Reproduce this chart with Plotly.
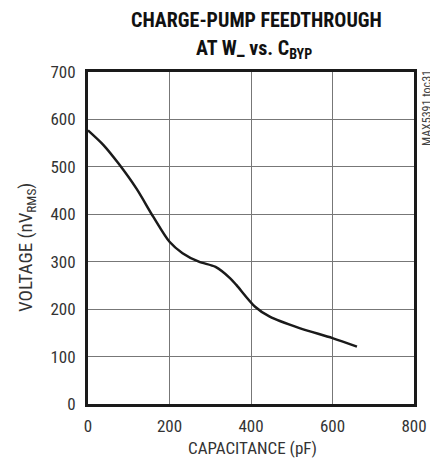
import plotly.graph_objects as go

capacitance_pf = [0, 38, 75, 119, 160, 200, 232, 272, 313, 349, 364, 410, 446, 519, 600, 660]
voltage_nvrms = [577, 546, 507, 454, 395, 342, 318, 300, 289, 265, 251, 205, 184, 160, 139, 121]

x_ticks = [0, 200, 400, 600, 800]
y_ticks = [0, 100, 200, 300, 400, 500, 600, 700]

FONT = "Liberation Sans Narrow, Arial Narrow, Roboto Condensed, Liberation Sans, sans-serif"
TXT = "#333333"

# page body has an 8px margin; plot area spans page px x 88..414, y 72..404
PX0, PX1, PY0, PY1 = 88, 414, 72, 404


def px(x):
    return (x - PX0) / (PX1 - PX0)


def py(y):
    return (PY1 - y) / (PY1 - PY0)


fig = go.Figure()
fig.add_trace(go.Scatter(
    x=capacitance_pf, y=voltage_nvrms, mode="lines",
    line=dict(color="#1a1a1a", width=2.5, shape="spline", smoothing=0.8),
    showlegend=False, hoverinfo="skip"))

axis_common = dict(
    showline=True, linecolor="#1a1a1a", linewidth=3, mirror=True,
    showgrid=True, gridcolor="#777777", gridwidth=1,
    zeroline=False, ticks="", automargin=False,
    tickfont=dict(family=FONT, size=17, color=TXT),
)

fig.update_layout(
    width=430, height=455,
    margin=dict(l=80, r=24, t=64, b=59, autoexpand=False),
    paper_bgcolor="white", plot_bgcolor="white",
    font=dict(family=FONT, color=TXT),
    xaxis=dict(range=[0, 800], tickvals=x_ticks, ticktext=[str(v) for v in x_ticks],
               ticklabelstandoff=5, **axis_common),
    yaxis=dict(range=[0, 700], tickvals=y_ticks, ticktext=[str(v) for v in y_ticks],
               ticklabelstandoff=6, **axis_common),
)

fig.add_annotation(
    text="<b>CHARGE-PUMP FEEDTHROUGH</b>", xref="paper", yref="paper",
    x=px(256), y=py(20), xanchor="center", yanchor="middle", showarrow=False,
    font=dict(family=FONT, size=20, color="#111111"))
fig.add_annotation(
    text="<b>AT W_ vs. C<sub>BYP</sub></b>", xref="paper", yref="paper",
    x=px(254), y=py(49), xanchor="center", yanchor="middle", showarrow=False,
    font=dict(family=FONT, size=20, color="#111111"))

fig.add_annotation(
    text="CAPACITANCE (pF)", xref="paper", yref="paper",
    x=px(252), y=py(448), xanchor="center", yanchor="middle", showarrow=False,
    font=dict(family=FONT, size=17, color=TXT))
fig.add_annotation(
    text="VOLTAGE (nV<sub>RMS</sub>)", xref="paper", yref="paper",
    x=px(26), y=py(247), xanchor="center", yanchor="middle",
    textangle=-90, showarrow=False,
    font=dict(family=FONT, size=19, color=TXT))

fig.add_annotation(
    text="MAX5391 toc31", xref="paper", yref="paper", x=px(427), y=py(68),
    xanchor="center", yanchor="top", textangle=-90, showarrow=False,
    font=dict(family=FONT, size=12, color="#444444"))

fig.write_html("out.html")
